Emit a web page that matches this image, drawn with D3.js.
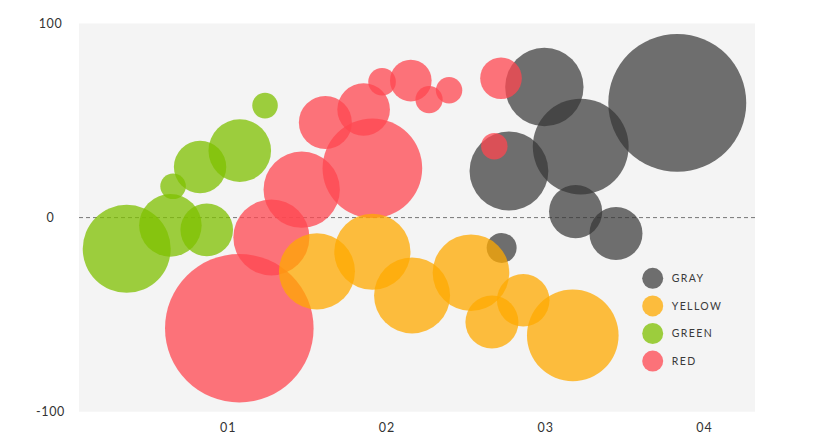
<!DOCTYPE html>
<html>
<head>
  <meta charset="UTF-8">
  <script src="https://d3js.org/d3.v7.min.js"></script>
  <title>Bubble chart</title>
  <style type="text/css">
    html, body { width:100%; height:100%; margin:0; background:#fff; }
    text { font-family: Lato, "Open Sans", sans-serif; fill:#333; }
  </style>
</head>
<body>
<div class="chart"></div>
<script>
  // series: [x, y, size]
  var gray = [
    [2.725, -15.6, 4.0], [2.771, 24.0, 27.6], [2.994, 67.3, 27.3], [3.223, 36.6, 40.8],
    [3.191, 3.1, 12.6], [3.445, -8.2, 12.5], [3.831, 59.1, 84.6]
  ];
  var green = [
    [0.364, -16.1, 34.4], [0.639, -4.0, 17.4], [0.868, -6.3, 12.3], [0.656, 16.1, 2.9],
    [0.826, 26.1, 12.2], [1.076, 34.5, 17.4], [1.235, 57.7, 2.9]
  ];
  var red = [
    [1.073, -57.0, 98.1], [1.275, -10.2, 25.7], [1.466, 14.4, 25.9], [1.911, 25.4, 44.1],
    [1.615, 49.0, 12.5], [1.856, 55.7, 12.3], [1.972, 70.0, 3.4], [2.153, 70.6, 7.7],
    [2.268, 60.8, 3.3], [2.394, 65.6, 3.1], [2.721, 71.8, 7.7], [2.679, 36.8, 3.1]
  ];
  var yellow = [
    [1.562, -27.7, 25.7], [1.911, -17.6, 25.8], [2.161, -40.1, 25.7], [2.532, -28.4, 26.1],
    [2.664, -53.8, 12.5], [2.861, -42.6, 12.3], [3.173, -60.7, 37.3]
  ];
  var xTicks = [1, 2, 3, 4];
  var xTickLabels = ["01", "02", "03", "04"];
  var yTicks = [100, 0, -100];
  var yTickLabels = ["100", "0", "-100"];
  var legendNames = ["GRAY", "YELLOW", "GREEN", "RED"];

  var colors = { GRAY: "#353535", YELLOW: "#ffa900", GREEN: "#7fc000", RED: "#ff4750" };
  var alphas = { GRAY: 0.7, YELLOW: 0.75, GREEN: 0.75, RED: 0.75 };

  var svgWidth = 820, svgHeight = 447;
  var plot = {left: 79, right: 755, top: 23.5, bottom: 411.7};

  var svg = d3.select(".chart").append("svg")
    .attr("width", svgWidth)
    .attr("height", svgHeight);

  var xScale = d3.scaleLinear().domain([0.0635, 4.3205]).range([plot.left, plot.right]);
  var yScale = d3.scaleLinear().domain([-100, 100]).range([plot.bottom, plot.top]);
  var rScale = d3.scaleSqrt().domain([0, 100]).range([0, 75]);

  // background
  svg.append("rect")
    .attr("x", plot.left)
    .attr("y", plot.top)
    .attr("width", plot.right - plot.left)
    .attr("height", plot.bottom - plot.top)
    .attr("fill", "#f4f4f4");

  // zero line
  svg.append("line")
    .attr("x1", plot.left).attr("x2", plot.right)
    .attr("y1", yScale(0)).attr("y2", yScale(0))
    .attr("stroke", "#777")
    .attr("stroke-width", 1)
    .attr("stroke-dasharray", "4,3");

  // axes
  var xAxis = svg.append("g")
    .attr("transform", "translate(0," + (plot.bottom + 17) + ")")
    .call(d3.axisBottom(xScale).tickValues(xTicks).tickSize(0)
      .tickFormat(function(d, i) { return xTickLabels[i]; }));
  xAxis.select(".domain").remove();
  xAxis.selectAll("text").attr("dy", 0).attr("font-size", 12.5).attr("letter-spacing", 1)
    .style("font-family", "Lato, sans-serif").attr("fill", "#333");

  var yAxis = svg.append("g")
    .attr("transform", "translate(50.5,0)")
    .call(d3.axisLeft(yScale).tickValues(yTicks).tickSize(0)
      .tickFormat(function(d, i) { return yTickLabels[i]; }));
  yAxis.select(".domain").remove();
  yAxis.selectAll("text").attr("x", 0).attr("text-anchor", "middle").attr("font-size", 12.5)
    .attr("letter-spacing", 0.6).style("font-family", "Lato, sans-serif").attr("fill", "#333");

  // bubbles
  var series = [["GRAY", gray], ["GREEN", green], ["RED", red], ["YELLOW", yellow]];
  series.forEach(function(s) {
    svg.append("g").selectAll("circle")
      .data(s[1])
      .enter()
      .append("circle")
      .attr("cx", function(d) { return xScale(d[0]); })
      .attr("cy", function(d) { return yScale(d[1]); })
      .attr("r", function(d) { return rScale(d[2]); })
      .attr("fill", colors[s[0]])
      .attr("fill-opacity", alphas[s[0]]);
  });

  // legend
  var legend = svg.append("g").attr("transform", "translate(652.7,278.3)");
  var item = legend.selectAll("g")
    .data(legendNames)
    .enter()
    .append("g")
    .attr("transform", function(d, i) { return "translate(0," + (i * 27.6) + ")"; });
  item.append("circle")
    .attr("r", 10.5)
    .attr("fill", function(d) { return colors[d]; })
    .attr("fill-opacity", function(d) { return alphas[d]; });
  item.append("text")
    .attr("x", 19)
    .attr("dy", "0.36em")
    .attr("font-size", 10.5)
    .attr("letter-spacing", 1.4)
    .style("fill", "#3a3a3a")
    .text(function(d) { return d; });
</script>
</body>
</html>
